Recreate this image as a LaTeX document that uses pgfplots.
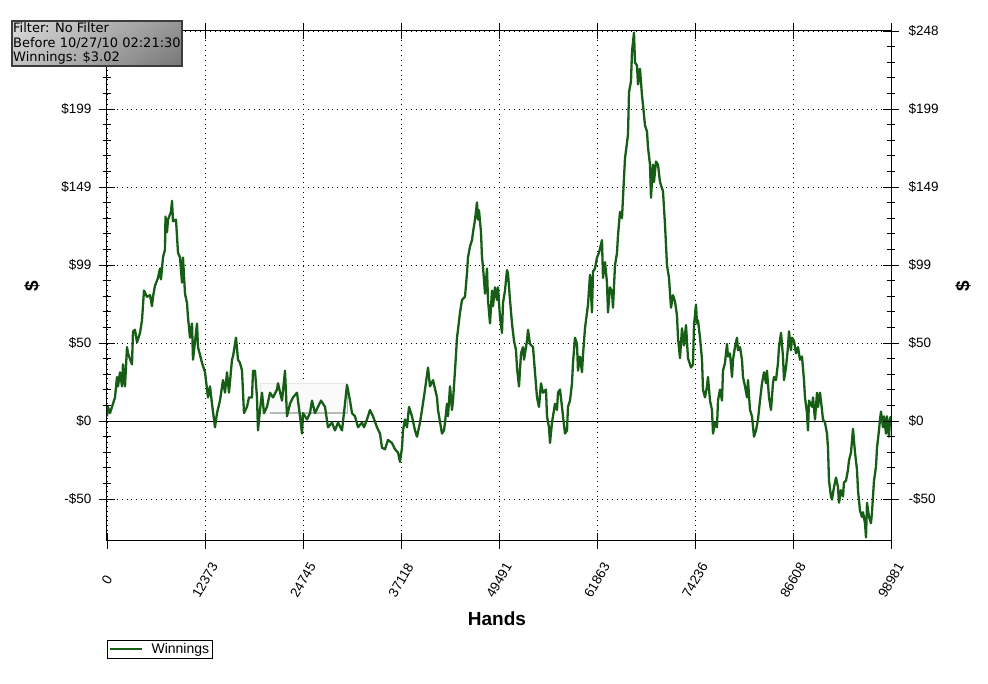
\documentclass[border=0pt]{standalone}
\usepackage{pgfplots}
\pgfplotsset{compat=1.18}
\usepackage{pgfplotstable}
\usetikzlibrary{shadings}
\usepackage{fontspec}
\setmainfont{Liberation Sans}
\newfontfamily\verd{DejaVu Sans}
\definecolor{wgreen}{RGB}{22,94,22}
\definecolor{boxA}{RGB}{218,218,218}
\definecolor{boxB}{RGB}{196,196,196}
\definecolor{boxC}{RGB}{150,150,150}
\definecolor{boxD}{RGB}{118,118,118}
\definecolor{boxE}{RGB}{60,60,60}
\pgfplotstableread{
x y
0 3
126 9
379 5
758 11
1010 15
1263 28
1389 22
1641 31
1894 22
2020 36
2273 22
2525 47
2651 43
3156 36
3283 57
3535 58
3788 50
4166 56
4419 64
4671 83
5050 79
5429 80
5681 73
5808 79
6060 86
6439 91
6691 97
6818 90
7070 104
7323 109
7386 130
7575 120
7701 128
8080 133
8206 140
8333 127
8711 128
8964 107
9216 104
9469 88
9595 104
9848 81
10100 75
10226 66
10479 53
10731 62
10858 39
11363 62
11489 47
11994 37
12373 31
12751 15
13004 22
13256 11
13635 -4
13888 5
14266 13
14645 26
14898 18
15150 31
15403 18
15781 39
15908 41
16286 53
16539 39
16791 37
17044 32
17296 5
17675 9
17928 15
18306 15
18433 32
18685 32
18938 15
19064 -6
19316 7
19569 18
19821 5
20200 9
20579 18
20958 15
21463 20
21589 24
22094 13
22473 32
22725 3
23104 11
23483 15
23988 18
24366 3
24619 -8
24745 5
25250 1
25629 5
25881 13
26260 5
26639 9
27018 13
27523 9
27901 -4
28406 -1
28785 -6
29164 -1
29669 -6
30048 11
30300 23
30679 13
30931 5
31310 3
31689 -4
32194 -1
32446 -4
32825 1
33204 7
33583 3
34088 -4
34466 -8
34719 -17
35098 -18
35476 -12
35981 -14
36360 -18
36739 -20
36991 -26
37244 -17
37370 -6
37623 1
37875 -4
38128 9
38506 3
38885 -6
39138 -10
39516 -1
39769 7
40148 20
40526 34
40779 22
41158 26
41663 15
41789 7
42294 -8
42546 -6
42673 -1
42925 11
43051 3
43304 22
43556 7
43683 13
43935 32
44188 53
44314 58
44566 69
44819 77
45198 79
45450 94
45576 104
45829 111
46081 115
46208 120
46460 128
46713 139
46839 128
46965 134
47218 120
47344 104
47470 98
47723 81
47975 97
48101 77
48354 62
48606 83
48733 73
48985 85
49238 77
49364 85
49616 66
49869 56
49995 75
50248 83
50500 96
50626 94
50879 77
51131 62
51384 51
51636 45
51763 34
52015 22
52268 43
52520 47
52646 39
53025 51
53151 58
53404 49
53783 47
54035 31
54288 15
54540 9
54793 24
55045 18
55424 20
55550 3
55803 -4
55929 -14
56181 -1
56308 3
56560 11
56813 7
56939 18
57191 20
57444 9
57570 3
57823 -8
58075 -6
58201 9
58454 13
58706 24
58833 37
59085 53
59338 49
59464 32
59716 41
59969 31
60095 42
60348 59
60600 69
60726 74
60979 93
61231 69
61358 95
61610 97
61863 104
62115 107
62494 115
62620 91
62873 101
63125 88
63251 69
63504 85
63756 82
63883 72
64135 99
64388 107
64514 118
64766 133
65019 129
65145 142
65398 167
65650 177
65776 182
65903 209
66155 216
66281 235
66534 247
66660 228
66913 226
67039 214
67291 224
67544 207
67670 201
67923 188
68175 184
68301 174
68554 163
68680 142
68933 163
69059 152
69311 165
69564 163
69816 152
70195 146
70448 125
70700 99
70953 91
71205 72
71458 80
71710 76
71963 67
72089 53
72341 40
72594 59
72846 48
73099 61
73351 40
73730 34
73983 36
74109 61
74361 74
74488 62
74614 64
74866 53
75119 39
75245 20
75498 15
75750 22
75876 28
76129 13
76381 7
76508 -8
76760 -1
77013 -4
77139 13
77391 20
77644 13
77770 32
78023 37
78275 49
78401 41
78654 43
78906 28
79033 39
79285 47
79538 53
79664 45
79916 47
80169 39
80295 28
80548 22
80800 15
80926 26
81179 7
81431 3
81684 -10
81936 -6
82189 1
82441 13
82694 24
82946 31
83199 24
83325 32
83578 15
83830 7
84083 24
84209 28
84461 26
84714 37
84840 47
85093 56
85345 41
85471 26
85724 34
85976 47
86103 57
86355 45
86481 53
86734 51
86986 43
87239 47
87491 39
87744 41
87996 26
88123 15
88375 5
88501 -6
88628 13
89006 9
89133 15
89385 1
89638 18
89764 9
90016 18
90269 7
90395 1
90648 -1
90900 -8
91026 -17
91153 -38
91405 -48
91531 -50
91784 -42
92036 -36
92289 -42
92415 -52
92668 -44
92920 -48
93046 -39
93299 -38
93551 -31
93678 -25
93930 -20
94183 -5
94435 -20
94688 -31
94814 -44
95066 -57
95319 -61
95445 -58
95698 -65
95824 -74
95950 -52
96203 -61
96455 -65
96581 -58
96834 -38
97086 -29
97213 -17
97465 -6
97591 1
97718 6
97970 -4
98096 3
98349 -8
98475 3
98728 -10
98854 1
98981 3.02
}\winnings
\begin{document}
\begin{tikzpicture}[x=1pt,y=1pt]
\useasboundingbox (-107pt,-143pt) rectangle (881pt,541pt);
\begin{axis}[
  at={(0pt,0pt)}, anchor=south west,
  scale only axis, width=784pt, height=510pt,
  xmin=0, xmax=98981, ymin=-76.3, ymax=248,
  scaled x ticks=false, scaled y ticks=false,
  xtick={0,12373,24745,37118,49491,61863,74236,86608,98981},
  xticklabels={0,12373,24745,37118,49491,61863,74236,86608,98981},
  ytick={-49.6,0,49.6,99.2,148.8,198.4,248},
  yticklabels={-\$50,\$0,\$50,\$99,\$149,\$199,{}},
  minor x tick num=4, minor y tick num=4,
  ytick pos=left, xtick pos=both,
  tick align=center,
  major tick length=16pt, minor tick length=8pt,
  every tick/.style={black, line width=0.8pt},
  axis line style={black, line width=1pt},
  grid=major,
  major grid style={black, line width=0.9pt, dash pattern=on 0.9pt off 4pt},
  tick label style={font=\fontsize{13.5}{15}\selectfont},
  xticklabel style={yshift=-31pt, rotate=60, anchor=center},
  yticklabel style={xshift=-4pt},
  xlabel={Hands}, ylabel={\$},
  every axis x label/.style={at={(axis description cs:0.4974,-0.153)}, anchor=center, font=\bfseries\fontsize{19}{22}\selectfont},
  every axis y label/.style={at={(axis description cs:-0.0957,0.5)}, anchor=center, rotate=90, font=\bfseries\fontsize{19}{22}\selectfont},
  legend style={at={(axis description cs:0,-0.194)}, anchor=north west, draw=black, line width=0.8pt, inner sep=1pt, font=\fontsize{14}{16}\selectfont, nodes={inner sep=2pt}},
  legend cell align=left,
  legend image code/.code={\path[draw=none, fill=none] (0pt,-4pt) rectangle (40pt,4pt); \draw[#1] (0pt,0pt) -- (32pt,0pt);},
]
\fill[gray!4] (rel axis cs:0.195,0.251) rectangle (rel axis cs:0.307,0.31);
\draw[gray!18] (rel axis cs:0.195,0.251) rectangle (rel axis cs:0.307,0.31);
\draw[gray!55, line width=1.6pt] (rel axis cs:0.208,0.251) -- (rel axis cs:0.307,0.251) -- (rel axis cs:0.307,0.295);
\addplot[black, line width=1pt, forget plot] coordinates {(0,0) (98981,0)};
\addplot[wgreen, line width=2.3pt, line join=round] table[x=x, y=y] {\winnings};
\addlegendentry{Winnings}
\end{axis}
\begin{axis}[
  at={(0pt,0pt)}, anchor=south west,
  scale only axis, width=784pt, height=510pt,
  xmin=0, xmax=98981, ymin=-76.3, ymax=248,
  scaled x ticks=false, scaled y ticks=false,
  axis x line=none, axis y line*=right,
  ytick={-49.6,0,49.6,99.2,148.8,198.4,248},
  yticklabels={-\$50,\$0,\$50,\$99,\$149,\$199,\$248},
  minor y tick num=4,
  tick align=center,
  major tick length=16pt, minor tick length=8pt,
  every tick/.style={black, line width=0.8pt},
  axis line style={black, line width=1pt},
  tick label style={font=\fontsize{13.5}{15}\selectfont},
  yticklabel style={anchor=west, xshift=6pt},
  ylabel={\$},
  every axis y label/.style={at={(axis description cs:1.0918,0.5)}, anchor=center, rotate=90, font=\bfseries\fontsize{19}{22}\selectfont},
]
\addplot[draw=none, forget plot] coordinates {(0,0)};
\end{axis}
\shade[upper left=boxA, lower left=boxB, upper right=boxC, lower right=boxD] (-95,475) rectangle (75,520);
\draw[boxE, line width=1.2pt] (-95,475) rectangle (75,520);
\node[anchor=west, inner sep=0pt, font=\verd\fontsize{13}{15}\selectfont] at (-94,513) {Filter: No Filter};
\node[anchor=west, inner sep=0pt, font=\verd\fontsize{13}{15}\selectfont] at (-94,498) {Before 10/27/10 02:21:30};
\node[anchor=west, inner sep=0pt, font=\verd\fontsize{13}{15}\selectfont] at (-94,483) {Winnings: \$3.02};
\end{tikzpicture}
\end{document}
